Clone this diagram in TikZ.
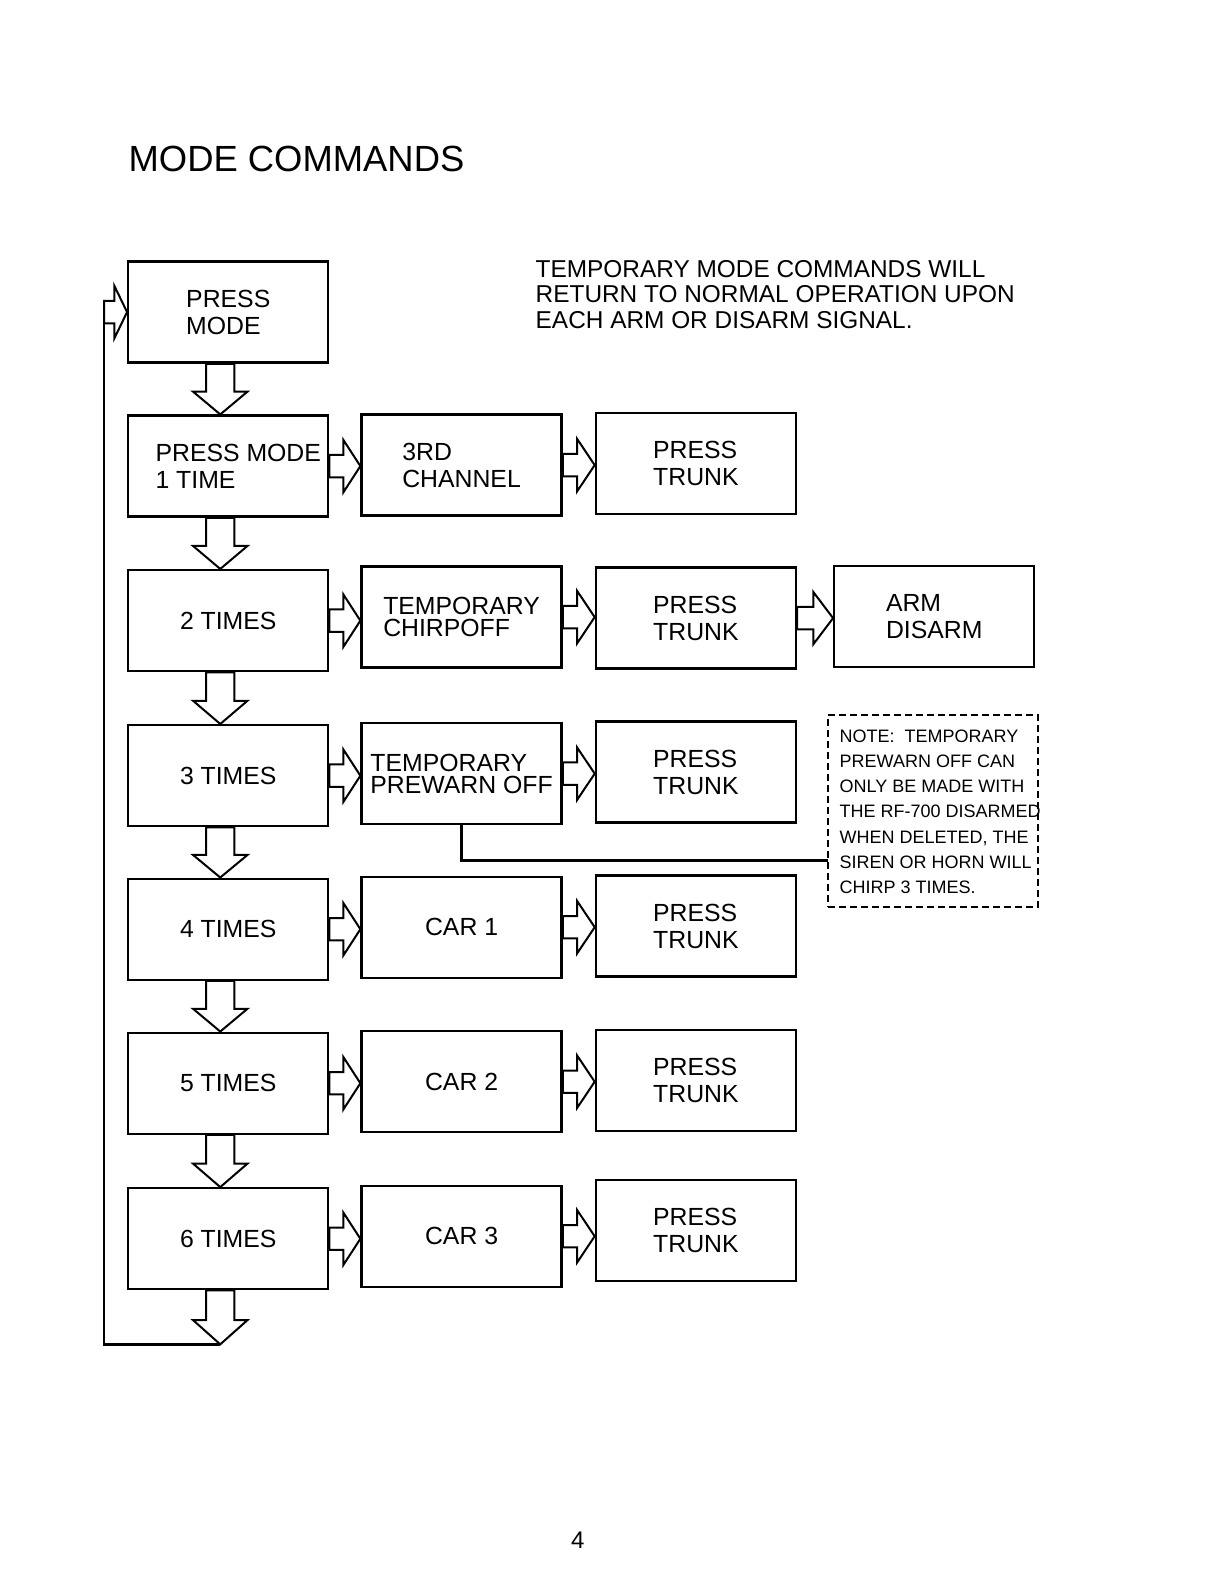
\documentclass[tikz,border=0pt]{standalone}
\usepackage{fontspec}
\setmainfont{Liberation Sans}
\usetikzlibrary{calc}

% hollow block arrows, drawn from point to point
\newcommand{\hblock}[2]{%
  \draw[blockarrow] let \p1=#1, \p2=#2, \p3=($#1!0.45!#2$) in
    (\x1,\y1+5.6pt) -- (\x3,\y1+5.6pt) -- (\x3,\y1+13.1pt) -- (\x2,\y1)
    -- (\x3,\y1-13.1pt) -- (\x3,\y1-5.6pt) -- (\x1,\y1-5.6pt) -- cycle;}
\newcommand{\vblock}[2]{%
  \draw[blockarrow] let \p1=#1, \p2=#2, \p3=($#1!0.55!#2$) in
    (\x1-7.1pt,\y1) -- (\x1-7.1pt,\y3) -- (\x1-13.6pt,\y3) -- (\x1,\y2)
    -- (\x1+13.6pt,\y3) -- (\x1+7.1pt,\y3) -- (\x1+7.1pt,\y1) -- cycle;}

\begin{document}
\begin{tikzpicture}[x=0.505pt,y=-0.505pt,
    box/.style={draw,line width=1.2pt,minimum width=100pt,minimum height=50.5pt,inner sep=0pt,
      align=left,font=\fontsize{12.4}{13.6}\selectfont},
    blockarrow/.style={draw,line width=1pt,fill=white,line join=miter},
    line/.style={draw,line width=1.2pt}]
  \useasboundingbox (0,0) rectangle (1211.9,1568.3);

  \node[anchor=base west,inner sep=0pt,font=\fontsize{18.2}{20}\selectfont] (title) at (127,170) {MODE COMMANDS};
  \node[anchor=north west,inner sep=0pt,align=left,font=\fontsize{12.2}{12.9}\selectfont] (remark) at (530,257)
    {TEMPORARY MODE COMMANDS WILL\\RETURN TO NORMAL OPERATION UPON\\EACH ARM OR DISARM SIGNAL.};

  % first column
  \node[box] (mode) at (226,309) {PRESS\\MODE};
  \node[box] (one) at (226,461.5) {\hspace*{10pt}PRESS MODE\\\hspace*{10pt}1 TIME};
  \node[box] (two) at (226,614.5) {2 TIMES};
  \node[box] (three) at (226,768) {3 TIMES};
  \node[box] (four) at (226,920) {4 TIMES};
  \node[box] (five) at (226,1072.5) {5 TIMES};
  \node[box] (six) at (226,1226.5) {6 TIMES};

  % second column
  \node[box] (third) at (457,460.5) {3RD\\CHANNEL};
  \node[box] (chirp) at (457,611) {TEMPORARY\\[-2.5pt]CHIRPOFF};
  \node[box] (prewarn) at (457,766) {TEMPORARY\\[-2.5pt]PREWARN OFF};
  \node[box] (car1) at (457,918) {CAR 1};
  \node[box] (car2) at (457,1071) {CAR 2};
  \node[box] (car3) at (457,1224) {CAR 3};

  % third column
  \node[box] (trunk1) at (689,459) {PRESS\\TRUNK};
  \node[box] (trunk2) at (689,612) {PRESS\\TRUNK};
  \node[box] (trunk3) at (689,764.5) {PRESS\\TRUNK};
  \node[box] (trunk4) at (689,917) {PRESS\\TRUNK};
  \node[box] (trunk5) at (689,1070) {PRESS\\TRUNK};
  \node[box] (trunk6) at (689,1218.5) {PRESS\\TRUNK};

  \node[box] (arm) at (925,610.5) {ARM\\DISARM};

  % note
  \node[draw,dashed,dash pattern=on 3.5pt off 2pt,line width=1pt,minimum width=105pt,minimum height=96pt,inner sep=0pt] (note) at (924,803) {};
  \node[anchor=north west,inner sep=0pt,align=left,font=\fontsize{9}{12.6}\selectfont] (notetext) at (831,722)
    {NOTE:\ \ TEMPORARY\\PREWARN OFF CAN\\ONLY BE MADE WITH\\THE RF-700 DISARMED\\WHEN DELETED, THE\\SIREN OR HORN WILL\\CHIRP 3 TIMES.};
  \coordinate (notein) at (820,852);
  \draw[line] (prewarn.south) |- (notein);

  % down the first column
  \vblock{([xshift=-4pt]mode.south)}{(one.north)}
  \vblock{([xshift=-4pt]one.south)}{(two.north)}
  \vblock{([xshift=-4pt]two.south)}{(three.north)}
  \vblock{([xshift=-4pt]three.south)}{(four.north)}
  \vblock{([xshift=-4pt]four.south)}{(five.north)}
  \vblock{([xshift=-4pt]five.south)}{(six.north)}

  % back to the top
  \coordinate (loopend) at (218,1331);
  \coordinate (loopstart) at (103,309);
  \vblock{([xshift=-4pt]six.south)}{(loopend)}
  \draw[line] (loopend) -| (loopstart);
  \hblock{(loopstart)}{(mode.west)}

  % across the rows
  \hblock{(one.east)}{(third.west)}
  \hblock{(third.east)}{(trunk1.west)}
  \hblock{(two.east)}{(chirp.west)}
  \hblock{(chirp.east)}{(trunk2.west)}
  \hblock{(trunk2.east)}{(arm.west)}
  \hblock{(three.east)}{(prewarn.west)}
  \hblock{(prewarn.east)}{(trunk3.west)}
  \hblock{(four.east)}{(car1.west)}
  \hblock{(car1.east)}{(trunk4.west)}
  \hblock{(five.east)}{(car2.west)}
  \hblock{(car2.east)}{(trunk5.west)}
  \hblock{(six.east)}{(car3.west)}
  \hblock{(car3.east)}{(trunk6.west)}

  \node[font=\fontsize{12}{14}\selectfont] (page) at (572,1525) {4};
\end{tikzpicture}
\end{document}
